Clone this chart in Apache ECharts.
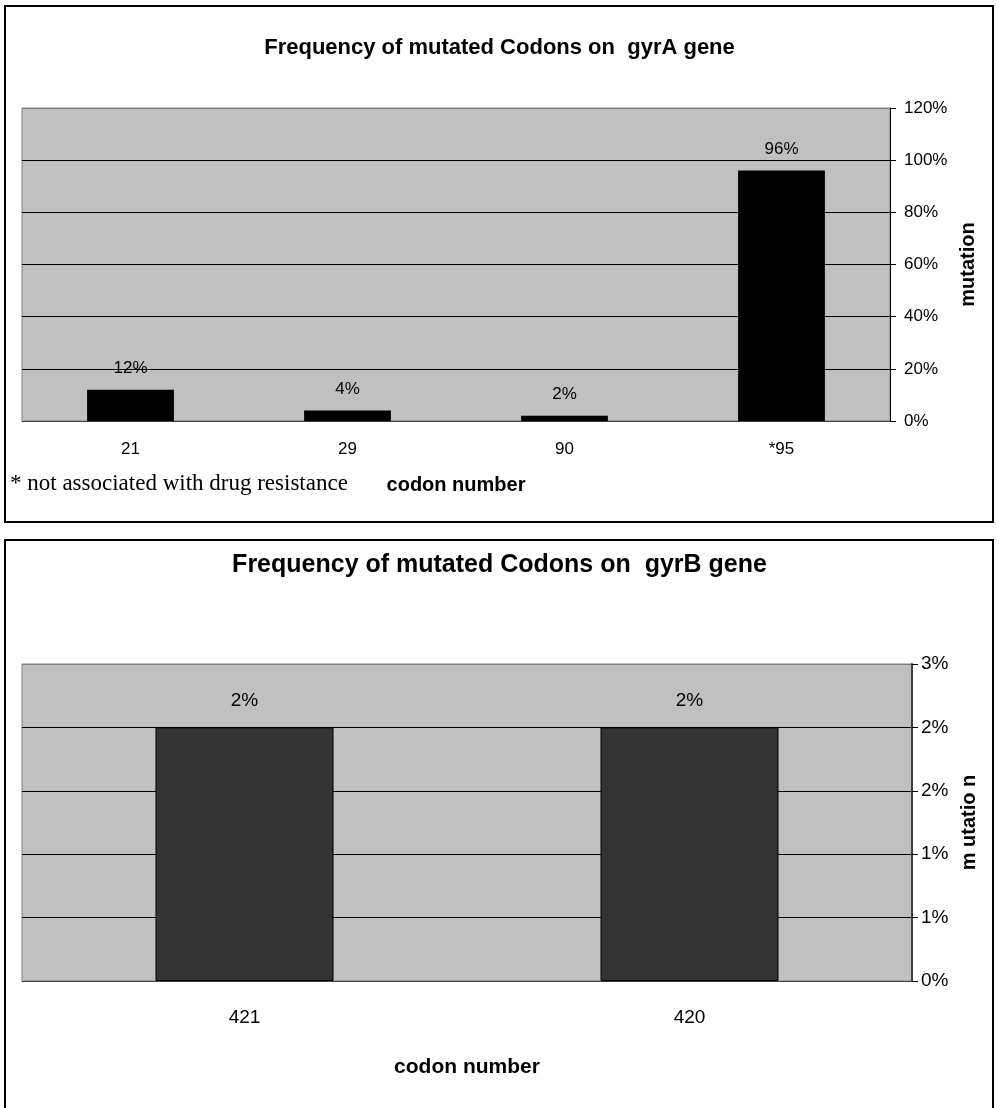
<!DOCTYPE html>
<html>
<head>
<meta charset="utf-8">
<script src="https://cdn.jsdelivr.net/npm/echarts@6/dist/echarts.min.js"></script>
<style>
  html, body { margin: 0; padding: 0; background: #fff; }
  #chart { width: 999px; height: 1108px; }
</style>
</head>
<body>
<div id="chart"></div>
<script>
// gyrA panel
const gyrACodons = ["21", "29", "90", "*95"];
const gyrAFreq = [0.12, 0.04, 0.02, 0.96];
// gyrB panel
const gyrBCodons = ["421", "420"];
const gyrBFreq = [0.02, 0.02];

const sans = "'Liberation Sans', Arial, sans-serif";
const pct = (v) => Math.round(v * 100) + "%";

const chart = echarts.init(document.getElementById("chart"));
const option = {
  animation: false,
  backgroundColor: "#fff",
  title: [
    {
      text: "Frequency of mutated Codons on  gyrA gene",
      left: "center",
      top: 32,
      textStyle: { fontFamily: sans, fontWeight: "bold", fontSize: 22, color: "#000" },
    },
    {
      text: "Frequency of mutated Codons on  gyrB gene",
      left: "center",
      top: 548,
      textStyle: { fontFamily: sans, fontWeight: "bold", fontSize: 25, color: "#000" },
    },
  ],
  graphic: [
    // panel frames
    { type: "rect", shape: { x: 5, y: 6, width: 988, height: 516 }, style: { fill: null, stroke: "#000", lineWidth: 2 } },
    { type: "rect", shape: { x: 5, y: 540, width: 988, height: 600 }, style: { fill: null, stroke: "#000", lineWidth: 2 } },
    {
      type: "text",
      x: 10,
      y: 484,
      style: {
        text: "* not associated with drug resistance",
        font: "23px 'Liberation Serif', 'Times New Roman', serif",
        fill: "#000",
        verticalAlign: "middle",
      },
    },
  ],
  grid: [
    { left: 22, top: 108, width: 868, height: 313, show: true, backgroundColor: "#c0c0c0", borderColor: "#808080", borderWidth: 1 },
    { left: 22, top: 664, width: 890, height: 317, show: true, backgroundColor: "#c0c0c0", borderColor: "#808080", borderWidth: 1 },
  ],
  xAxis: [
    {
      type: "category",
      gridIndex: 0,
      data: gyrACodons,
      axisLine: { lineStyle: { color: "#404040", width: 1 } },
      axisTick: { length: 8, lineStyle: { color: "#404040" } },
      axisLabel: { fontFamily: sans, fontSize: 17, color: "#000", margin: 20 },
      name: "codon number",
      nameLocation: "middle",
      nameGap: 54,
      nameTextStyle: { fontFamily: sans, fontWeight: "bold", fontSize: 20, color: "#000" },
    },
    {
      type: "category",
      gridIndex: 1,
      data: gyrBCodons,
      axisLine: { lineStyle: { color: "#404040", width: 1 } },
      axisTick: { length: 10, lineStyle: { color: "#404040" } },
      axisLabel: { fontFamily: sans, fontSize: 19, color: "#000", margin: 27 },
      name: "codon number",
      nameLocation: "middle",
      nameGap: 76,
      nameTextStyle: { fontFamily: sans, fontWeight: "bold", fontSize: 21, color: "#000" },
    },
  ],
  yAxis: [
    {
      type: "value",
      gridIndex: 0,
      position: "right",
      min: 0,
      max: 1.2,
      interval: 0.2,
      axisLine: { show: true, lineStyle: { color: "#000" } },
      axisTick: { show: true, length: 6, lineStyle: { color: "#000" } },
      axisLabel: { formatter: pct, fontFamily: sans, fontSize: 17, color: "#000", margin: 14 },
      splitLine: { show: true, lineStyle: { color: ["#000", "#000", "#000", "#000", "#000", "#000", "#808080"], width: 1 } },
      name: "mutation",
      nameLocation: "middle",
      nameRotate: 90,
      nameGap: 62,
      nameTextStyle: { fontFamily: sans, fontWeight: "bold", fontSize: 20, color: "#000" },
    },
    {
      type: "value",
      gridIndex: 1,
      position: "right",
      min: 0,
      max: 0.025,
      interval: 0.005,
      axisLine: { show: true, lineStyle: { color: "#404040", width: 2 } },
      axisTick: { show: true, length: 6, lineStyle: { color: "#000" } },
      axisLabel: { formatter: pct, fontFamily: sans, fontSize: 19, color: "#000", margin: 9 },
      splitLine: { show: true, lineStyle: { color: ["#000", "#000", "#000", "#000", "#000", "#808080"], width: 1 } },
      name: "m utatio n",
      nameLocation: "middle",
      nameRotate: 90,
      nameGap: 38,
      nameTextStyle: { fontFamily: sans, fontWeight: "bold", fontSize: 20, color: "#000" },
    },
  ],
  series: [
    {
      type: "bar",
      xAxisIndex: 0,
      yAxisIndex: 0,
      data: gyrAFreq,
      barWidth: "40%",
      itemStyle: { color: "#000" },
      label: { show: true, position: "top", distance: 13, formatter: (p) => pct(p.value), fontFamily: sans, fontSize: 17, color: "#000" },
    },
    {
      type: "bar",
      xAxisIndex: 1,
      yAxisIndex: 1,
      data: gyrBFreq,
      barWidth: "40%",
      itemStyle: { color: "#333333", borderColor: "#000", borderWidth: 1 },
      label: { show: true, position: "top", distance: 17, formatter: (p) => pct(p.value), fontFamily: sans, fontSize: 19, color: "#000" },
    },
  ],
};
chart.setOption(option);
</script>
</body>
</html>
